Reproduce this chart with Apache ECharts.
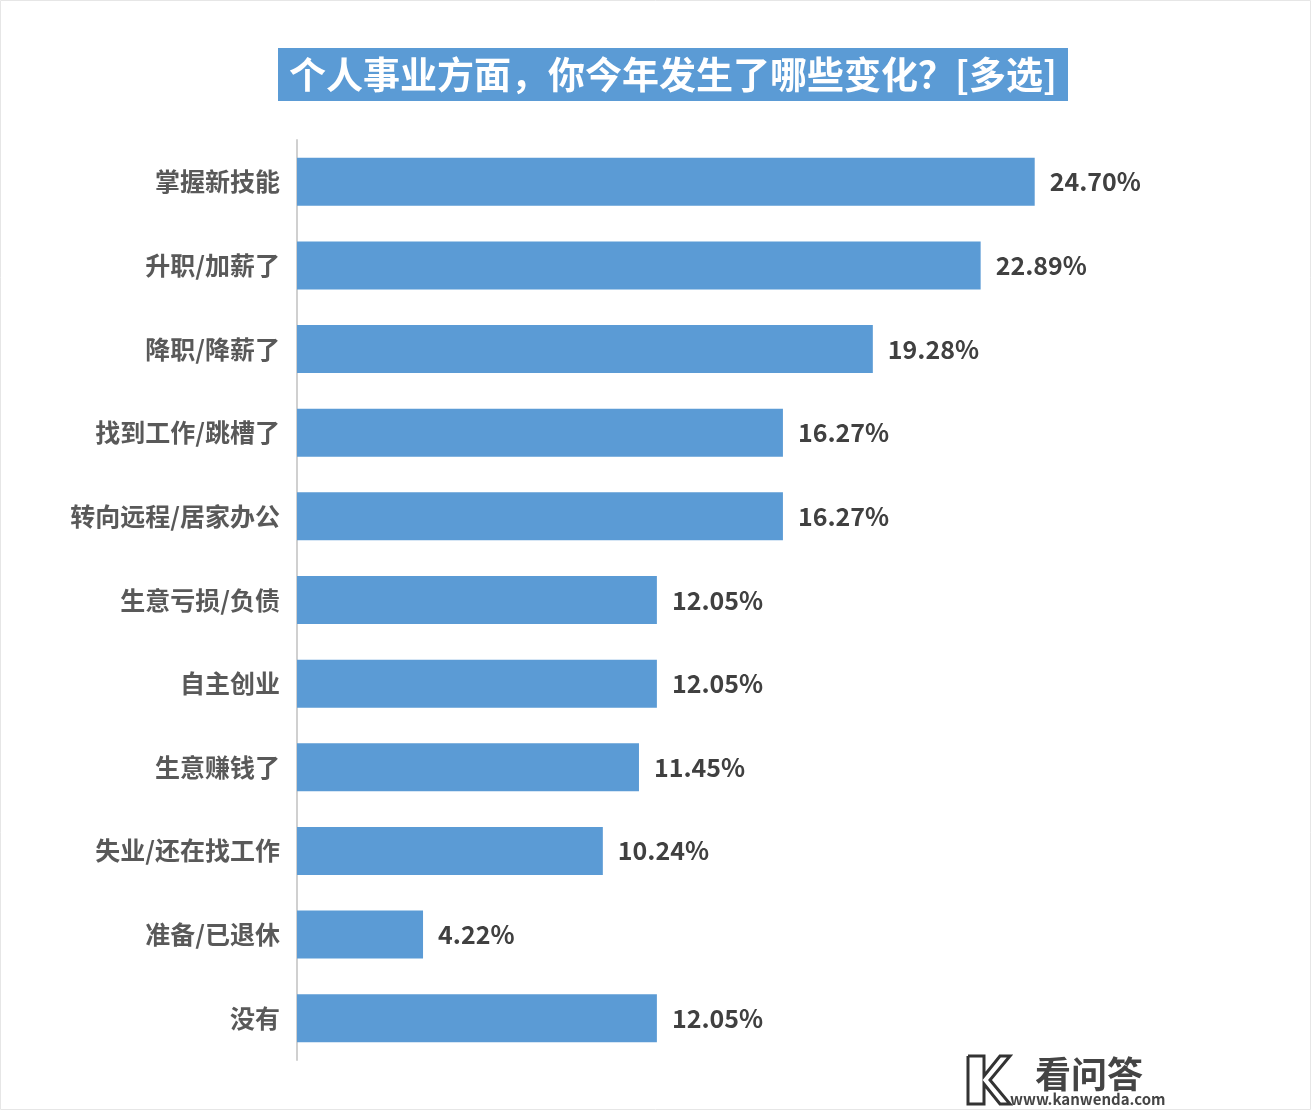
<!DOCTYPE html>
<html><head><meta charset="utf-8">
<script src="https://cdn.jsdelivr.net/npm/echarts@6/dist/echarts.min.js"></script>
<style>html,body{margin:0;padding:0;background:#fff}#c{width:1311px;height:1110px}</style>
</head><body><div id="c"></div>
<script>
const categories = ['掌握新技能','升职/加薪了','降职/降薪了','找到工作/跳槽了','转向远程/居家办公','生意亏损/负债','自主创业','生意赚钱了','失业/还在找工作','准备/已退休','没有'];
const values = [24.70, 22.89, 19.28, 16.27, 16.27, 12.05, 12.05, 11.45, 10.24, 4.22, 12.05];
const titleText = '个人事业方面，你今年发生了哪些变化？[多选]';
const font = '"Noto Sans CJK SC", "Noto Sans", sans-serif';
const chart = echarts.init(document.getElementById('c'));
chart.setOption({
  backgroundColor: '#fff',
  animation: false,
  grid: {left: 297, top: 140, width: 896, height: 920, containLabel: false},
  xAxis: {type: 'value', min: 0, max: 30, show: false},
  yAxis: {
    type: 'category', data: categories, inverse: true,
    axisLine: {show: true, lineStyle: {color: '#d0d0d0', width: 2}},
    axisTick: {show: false},
    axisLabel: {fontFamily: font, fontSize: 25, fontWeight: 'bold', color: '#595959', margin: 17}
  },
  series: [{
    type: 'bar', data: values, barWidth: 48,
    itemStyle: {color: '#5b9bd5'},
    label: {show: true, position: 'right', distance: 15, formatter: p => p.value.toFixed(2) + '%',
      fontFamily: font, fontSize: 25, fontWeight: 'bold', color: '#404040'}
  }],
  graphic: [
    {type: 'rect', shape: {x: 278, y: 48, width: 790, height: 53}, style: {fill: '#5b9bd5'}},
    {type: 'text', x: 673, y: 74.5, style: {text: titleText, fill: '#fff', font: 'bold 37px ' + font, align: 'center', verticalAlign: 'middle'}},
    {type: 'rect', shape: {x: 0.5, y: 0.5, width: 1310, height: 1109}, style: {fill: 'none', stroke: '#e6e6e6', lineWidth: 1}},
    {type: 'polyline', shape: {points: [[968,1056],[984,1056],[984,1076],[1000,1056],[1010,1056],[990,1080],[1010,1104],[1000,1104],[984,1084],[984,1104],[968,1104],[968,1056]]}, style: {fill: 'none', stroke: '#333', lineWidth: 3}},
    {type: 'text', x: 1035, y: 1074, style: {text: '看问答', fill: '#444', font: 'bold 36px ' + font, verticalAlign: 'middle'}},
    {type: 'text', x: 1010, y: 1099, style: {text: 'www.kanwenda.com', fill: '#444', font: 'bold 15px ' + font, verticalAlign: 'middle'}}
  ]
});
</script></body></html>
